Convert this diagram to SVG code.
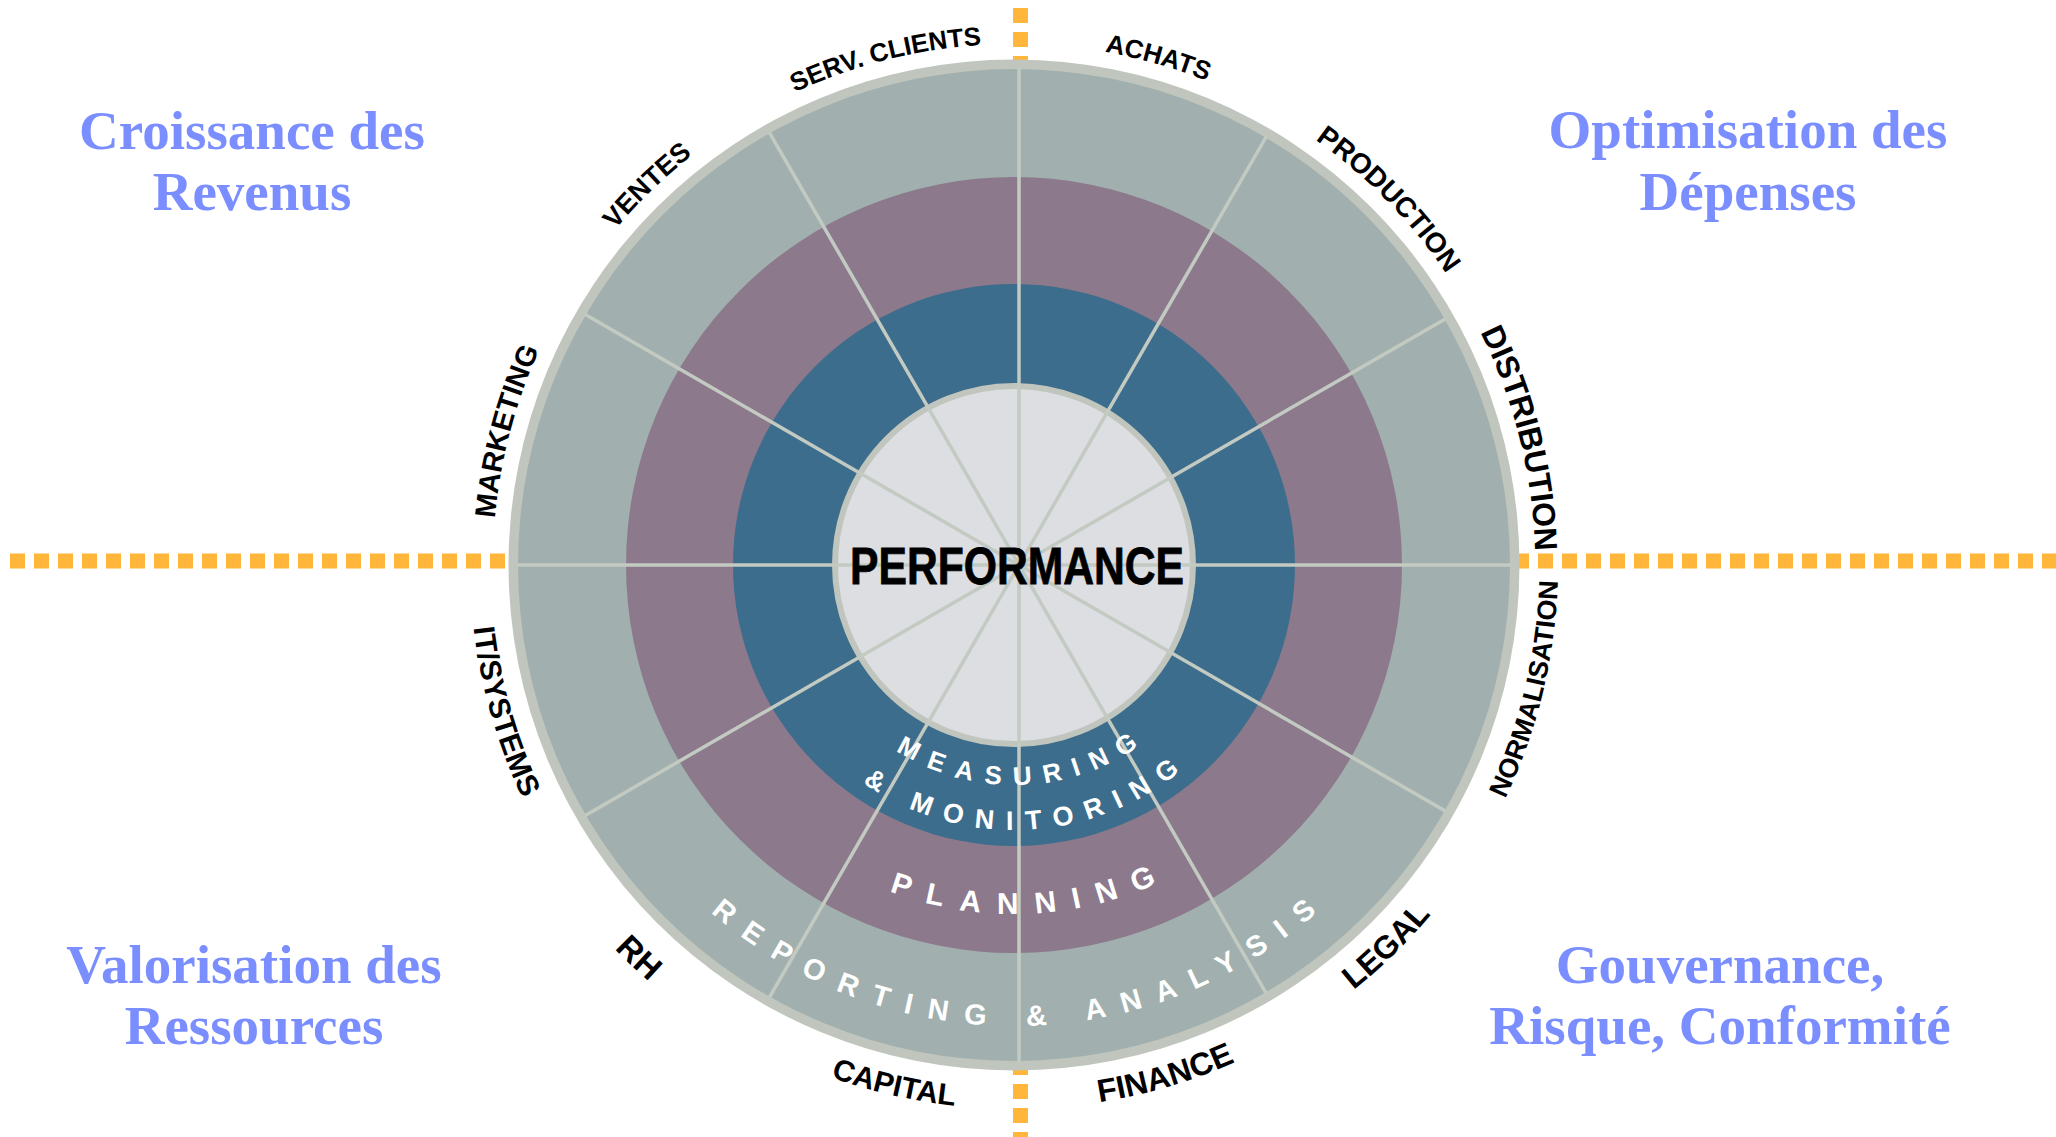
<svg xmlns="http://www.w3.org/2000/svg" xmlns:xlink="http://www.w3.org/1999/xlink" width="2056" height="1137" viewBox="0 0 2056 1137">
<defs>
<style>
.title{font-family:"Liberation Serif","Times New Roman",serif;font-weight:bold;font-size:55px;fill:#7b8eff;text-anchor:middle}
.lbl{font-family:"Liberation Sans",Arial,sans-serif;font-weight:bold;fill:#000;text-anchor:middle}
.ring{font-family:"Liberation Sans",Arial,sans-serif;font-weight:bold;fill:#fff;text-anchor:middle}
.dash{stroke:#ffb63a;stroke-width:15;stroke-dasharray:15 9;fill:none}
.spoke{stroke:#c3cac2;stroke-width:3.5}
</style>
<path id="pTop" d="M 1014 1086 A 521 521 0 1 1 1014 44 A 521 521 0 1 1 1014 1086"/>
<path id="pBot" d="M 1014 21 A 544 544 0 1 0 1014 1109 A 544 544 0 1 0 1014 21"/>
<path id="pMeas" d="M 794 565 A 220 220 0 0 0 1234 565"/>
<path id="pMon" d="M 749 565 A 265 265 0 0 0 1279 565"/>
<path id="pPlan" d="M 665 565 A 349 349 0 0 0 1363 565"/>
<path id="pRep" d="M 553 565 A 461 461 0 0 0 1475 565"/>
</defs>
<rect width="2056" height="1137" fill="#fff"/>

<g id="quadrant-titles">
<g id="title-revenus"><text class="title" x="252" y="149">Croissance des</text><text class="title" x="252" y="210">Revenus</text></g>
<g id="title-depenses"><text class="title" x="1748" y="148">Optimisation des</text><text class="title" x="1748" y="210">Dépenses</text></g>
<g id="title-ressources"><text class="title" x="254" y="983">Valorisation des</text><text class="title" x="254" y="1044">Ressources</text></g>
<g id="title-gouvernance"><text class="title" x="1720" y="983">Gouvernance,</text><text class="title" x="1720" y="1044">Risque, Conformité</text></g>
</g>

<g id="axes">
<line class="dash" x1="10" y1="561" x2="512" y2="561"/>
<line class="dash" x1="1514" y1="561" x2="2056" y2="561"/>
<line class="dash" x1="1020.5" y1="8" x2="1020.5" y2="72"/>
<line class="dash" x1="1020.5" y1="1060" x2="1020.5" y2="1137"/>
</g>

<g id="ring-reporting"><circle cx="1014" cy="565" r="505.5" fill="#c0c6be"/><circle cx="1014" cy="565" r="496" fill="#a1b0ae"/></g>
<g id="ring-planning"><circle cx="1014" cy="565" r="388" fill="#8c798c"/></g>
<g id="ring-measuring"><circle cx="1014" cy="565" r="281" fill="#3d6d8c"/></g>
<g id="core"><circle cx="1014" cy="565" r="179" fill="#dcdee2" stroke="#c0c6be" stroke-width="6"/></g>

<g id="spokes">
<line class="spoke" x1="1019" y1="68" x2="1019" y2="1062"/>
<line class="spoke" x1="1266.25" y1="136.75" x2="769.25" y2="997.6"/>
<line class="spoke" x1="1445.7" y1="318.65" x2="584.9" y2="815.65"/>
<line class="spoke" x1="517" y1="565" x2="1511" y2="565"/>
<line class="spoke" x1="1445.7" y1="811.35" x2="584.9" y2="314.35"/>
<line class="spoke" x1="1266.25" y1="993.25" x2="769.25" y2="132.4"/>
</g>

<g id="node-performance"><text x="1017" y="584" font-family="Liberation Sans, Arial, sans-serif" font-weight="bold" font-size="52" text-anchor="middle" textLength="334" lengthAdjust="spacingAndGlyphs" fill="#000" stroke="#000" stroke-width="0.8">PERFORMANCE</text></g>

<g id="ring-labels">
<text class="ring" font-size="26" letter-spacing="12.3"><textPath xlink:href="#pMeas" href="#pMeas" startOffset="355.5">MEASURING</textPath></text>
<text class="ring" font-size="27" letter-spacing="12.6"><textPath xlink:href="#pMon" href="#pMon" startOffset="431.8">&amp; MONITORING</textPath></text>
<text class="ring" font-size="30" letter-spacing="16.9"><textPath xlink:href="#pPlan" href="#pPlan" startOffset="566.4">PLANNING</textPath></text>
<text class="ring" font-size="29" letter-spacing="16.3"><textPath xlink:href="#pRep" href="#pRep" startOffset="732.3">REPORTING &amp; ANALYSIS</textPath></text>
</g>

<g id="labels">
<g id="lbl-serv"><text class="lbl" font-size="26"><textPath xlink:href="#pTop" href="#pTop" startOffset="1507.6">SERV. CLIENTS</textPath></text></g>
<g id="lbl-achats"><text class="lbl" font-size="26"><textPath xlink:href="#pTop" href="#pTop" startOffset="1781.3">ACHATS</textPath></text></g>
<g id="lbl-production"><text class="lbl" font-size="28"><textPath xlink:href="#pTop" href="#pTop" startOffset="2052.3">PRODUCTION</textPath></text></g>
<g id="lbl-distribution"><text class="lbl" font-size="32"><textPath xlink:href="#pTop" href="#pTop" startOffset="2327.8">DISTRIBUTION</textPath></text></g>
<g id="lbl-marketing"><text class="lbl" font-size="29"><textPath xlink:href="#pTop" href="#pTop" startOffset="952.9">MARKETING</textPath></text></g>
<g id="lbl-ventes"><text class="lbl" font-size="27"><textPath xlink:href="#pTop" href="#pTop" startOffset="1236.7">VENTES</textPath></text></g>
<g id="lbl-normalisation"><text class="lbl" font-size="27"><textPath xlink:href="#pBot" href="#pBot" startOffset="2434.4">NORMALISATION</textPath></text></g>
<g id="lbl-legal"><text class="lbl" font-size="32"><textPath xlink:href="#pBot" href="#pBot" startOffset="2129.7">LEGAL</textPath></text></g>
<g id="lbl-finance"><text class="lbl" font-size="32"><textPath xlink:href="#pBot" href="#pBot" startOffset="1865.7">FINANCE</textPath></text></g>
<g id="lbl-capital"><text class="lbl" font-size="30"><textPath xlink:href="#pBot" href="#pBot" startOffset="1585.6">CAPITAL</textPath></text></g>
<g id="lbl-rh"><text class="lbl" font-size="33" dy="10"><textPath xlink:href="#pBot" href="#pBot" startOffset="1294.1">RH</textPath></text></g>
<g id="lbl-it"><text class="lbl" font-size="30"><textPath xlink:href="#pBot" href="#pBot" startOffset="1006.4">IT/SYSTEMS</textPath></text></g>
</g>
</svg>
